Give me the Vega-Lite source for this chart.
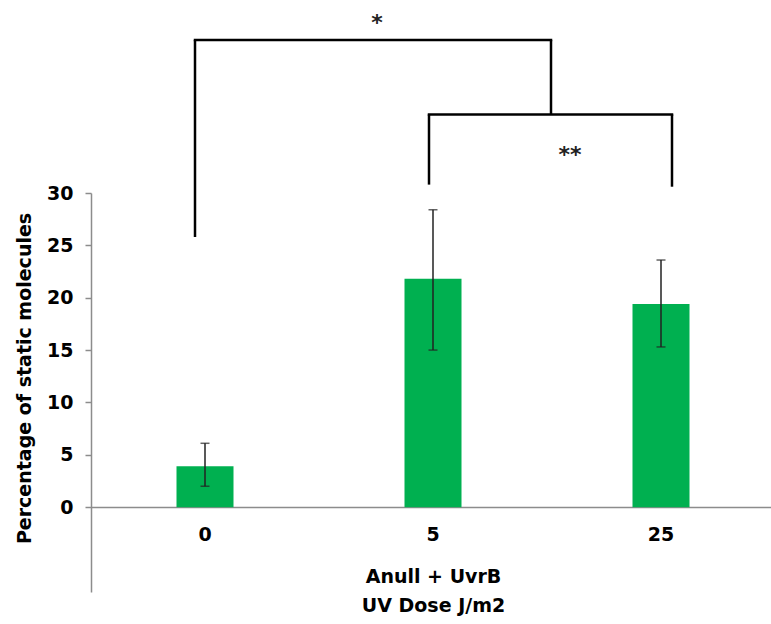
{
  "$schema": "https://vega.github.io/schema/vega-lite/v6.json",
  "width": 684,
  "height": 399,
  "autosize": {"type": "none"},
  "padding": {"left": 91, "top": 193, "right": 0, "bottom": 32},
  "background": "white",
  "config": {"font": "DejaVu Sans", "view": {"stroke": null}},
  "datasets": {
    "bars": [
      {"dose": "0", "pct": 3.9, "lo": 2.0, "hi": 6.1},
      {"dose": "5", "pct": 21.8, "lo": 15.0, "hi": 28.4},
      {"dose": "25", "pct": 19.4, "lo": 15.3, "hi": 23.6}
    ]
  },
  "layer": [
    {
      "data": {"name": "bars"},
      "mark": {"type": "bar", "color": "#00B050"},
      "encoding": {
        "x": {
          "field": "dose", "type": "ordinal", "sort": ["0", "5", "25"],
          "scale": {"domain": ["0", "5", "25"], "paddingInner": 0.75, "paddingOuter": 0.375},
          "axis": {
            "orient": "bottom", "offset": -85, "grid": false,
            "domainColor": "#8c8c8c", "domainWidth": 1.5, "ticks": false,
            "labelAngle": 0, "labelFontSize": 19, "labelFontWeight": "bold", "labelColor": "black",
            "labelPadding": 18,
            "title": ["Anull + UvrB", "UV Dose J/m2"],
            "titleFontSize": 19, "titleFontWeight": "bold", "titleColor": "black",
            "titlePadding": 23, "titleLineHeight": 29
          }
        },
        "y": {
          "field": "pct", "type": "quantitative",
          "scale": {"domain": [-8.1, 30], "nice": false, "zero": false},
          "axis": {
            "values": [0, 5, 10, 15, 20, 25, 30], "grid": false,
            "domainColor": "#8c8c8c", "domainWidth": 1.5, "tickColor": "#8c8c8c", "tickSize": 6, "tickWidth": 1.5,
            "labelFontSize": 19, "labelFontWeight": "bold", "labelColor": "black", "labelPadding": 12,
            "title": "Percentage of static molecules",
            "titleFontSize": 19, "titleFontWeight": "bold", "titleColor": "black",
            "titleAngle": 270, "titleAlign": "center", "titleBaseline": "middle",
            "titleX": -67, "titleY": 185
          }
        },
        "y2": {"datum": 0}
      }
    },
    {
      "data": {"name": "bars"},
      "mark": {"type": "rule", "color": "#222222", "strokeWidth": 1.5},
      "encoding": {
        "x": {"field": "dose", "type": "ordinal", "sort": ["0", "5", "25"]},
        "y": {"field": "lo", "type": "quantitative"},
        "y2": {"field": "hi"}
      }
    },
    {
      "data": {"name": "bars"},
      "mark": {"type": "tick", "color": "#222222", "size": 9, "thickness": 1.5},
      "encoding": {
        "x": {"field": "dose", "type": "ordinal", "sort": ["0", "5", "25"]},
        "y": {"field": "lo", "type": "quantitative"}
      }
    },
    {
      "data": {"name": "bars"},
      "mark": {"type": "tick", "color": "#222222", "size": 9, "thickness": 1.5},
      "encoding": {
        "x": {"field": "dose", "type": "ordinal", "sort": ["0", "5", "25"]},
        "y": {"field": "hi", "type": "quantitative"}
      }
    },
    {
      "data": {"values": [{"from": "0", "to": "5", "level": 44.6}]},
      "mark": {"type": "rule", "color": "black", "strokeWidth": 2.5, "xOffset": -10, "x2Offset": 118, "strokeCap": "square"},
      "encoding": {
        "x": {"field": "from", "type": "ordinal", "sort": ["0", "5", "25"]},
        "x2": {"field": "to"},
        "y": {"field": "level", "type": "quantitative"}
      }
    },
    {
      "data": {"values": [{"at": "0", "top": 44.6, "bottom": 25.8}]},
      "mark": {"type": "rule", "color": "black", "strokeWidth": 2.5, "xOffset": -10},
      "encoding": {
        "x": {"field": "at", "type": "ordinal", "sort": ["0", "5", "25"]},
        "y": {"field": "top", "type": "quantitative"},
        "y2": {"field": "bottom"}
      }
    },
    {
      "data": {"values": [{"at": "5", "top": 44.6, "bottom": 37.5}]},
      "mark": {"type": "rule", "color": "black", "strokeWidth": 2.5, "xOffset": 118},
      "encoding": {
        "x": {"field": "at", "type": "ordinal", "sort": ["0", "5", "25"]},
        "y": {"field": "top", "type": "quantitative"},
        "y2": {"field": "bottom"}
      }
    },
    {
      "data": {"values": [{"from": "5", "to": "25", "level": 37.5}]},
      "mark": {"type": "rule", "color": "black", "strokeWidth": 2.5, "xOffset": -4, "x2Offset": 11, "strokeCap": "square"},
      "encoding": {
        "x": {"field": "from", "type": "ordinal", "sort": ["0", "5", "25"]},
        "x2": {"field": "to"},
        "y": {"field": "level", "type": "quantitative"}
      }
    },
    {
      "data": {"values": [{"at": "5", "top": 37.5, "bottom": 30.8}]},
      "mark": {"type": "rule", "color": "black", "strokeWidth": 2.5, "xOffset": -4},
      "encoding": {
        "x": {"field": "at", "type": "ordinal", "sort": ["0", "5", "25"]},
        "y": {"field": "top", "type": "quantitative"},
        "y2": {"field": "bottom"}
      }
    },
    {
      "data": {"values": [{"at": "25", "top": 37.5, "bottom": 30.6}]},
      "mark": {"type": "rule", "color": "black", "strokeWidth": 2.5, "xOffset": 11},
      "encoding": {
        "x": {"field": "at", "type": "ordinal", "sort": ["0", "5", "25"]},
        "y": {"field": "top", "type": "quantitative"},
        "y2": {"field": "bottom"}
      }
    },
    {
      "data": {"values": [{"at": "5", "level": 46.7, "label": "*"}]},
      "mark": {"type": "text", "fontSize": 22, "fontWeight": "bold", "color": "#222222", "dx": -56, "baseline": "middle", "dy": 5},
      "encoding": {
        "x": {"field": "at", "type": "ordinal", "sort": ["0", "5", "25"]},
        "y": {"field": "level", "type": "quantitative"},
        "text": {"field": "label"}
      }
    },
    {
      "data": {"values": [{"at": "5", "level": 34.1, "label": "**"}]},
      "mark": {"type": "text", "fontSize": 22, "fontWeight": "bold", "color": "#222222", "dx": 137, "baseline": "middle", "dy": 5},
      "encoding": {
        "x": {"field": "at", "type": "ordinal", "sort": ["0", "5", "25"]},
        "y": {"field": "level", "type": "quantitative"},
        "text": {"field": "label"}
      }
    }
  ]
}
